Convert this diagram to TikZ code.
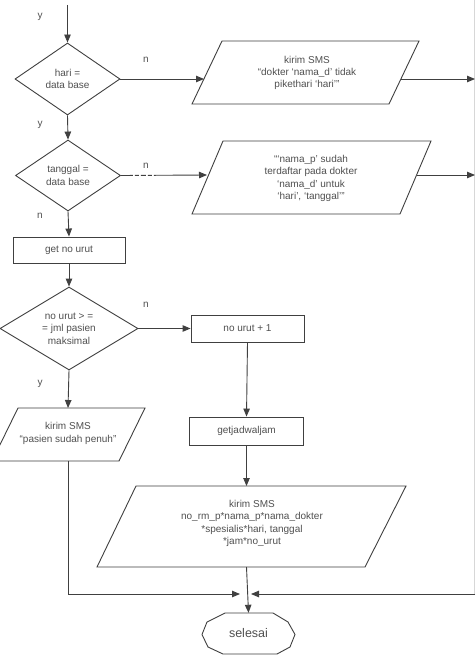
\documentclass[tikz,border=0pt]{standalone}
\usepackage{fontspec}
\setmainfont{Liberation Sans}
\usetikzlibrary{shapes.geometric,arrows.meta}
\definecolor{lc}{RGB}{64,64,64}
\definecolor{tc}{RGB}{80,80,80}
\definecolor{faint}{RGB}{215,215,215}
\begin{document}
\begin{tikzpicture}[x=1pt,y=-1pt,
 line/.style={draw=lc, line width=0.9pt},
 arr/.style={line, -{Triangle[length=8pt,width=6.5pt]}},
 box/.style={draw=lc, line width=0.9pt, rectangle, inner sep=0pt},
 dia/.style={draw=lc, line width=0.9pt, diamond, inner sep=0pt},
 para/.style={draw=lc, line width=0.9pt, line join=miter},
 txt/.style={text=tc, font=\fontsize{10}{12.4}\selectfont, align=center, inner sep=0pt},
 lbl/.style={text=tc, font=\fontsize{10}{12}\selectfont, inner sep=0pt}]
\useasboundingbox (0,0) rectangle (475,661);
\fill[white] (0,0) rectangle (475,661);

% faint right border line
\draw[faint, line width=0.9pt] (474,0) -- (474,594);

% start
\coordinate (start) at (67.5,5);

% decision 1
\node[dia, minimum width=105pt, minimum height=72pt] (d1) at (67.5,79) {};
\node[txt] (d1t) at (d1.center) {hari =\\data base};

% parallelogram 1
\draw[para] (192,104) -- (222,41) -- (419,41) -- (389,104) -- cycle;
\node[txt] (p1t) at (307,73) {kirim SMS\\“dokter ‘nama\_d’ tidak\\pikethari ‘hari’”};
\coordinate (p1in) at (204,79);
\coordinate (p1out) at (401,79);
\coordinate (r1) at (475,79);

% decision 2
\node[dia, minimum width=105pt, minimum height=71pt] (d2) at (68,175.5) {};
\node[txt] (d2t) at (d2.center) {tanggal =\\data base};

% parallelogram 2
\draw[para] (192,214) -- (223,141) -- (431,141) -- (400,214) -- cycle;
\node[txt] (p2t) at (311,178.5) {“‘nama\_p’ sudah\\terdaftar pada dokter\\‘nama\_d’ untuk\\‘hari’, ‘tanggal’”};
\coordinate (p2in) at (207,175);
\coordinate (p2out) at (416.5,175);
\coordinate (r2) at (475,175);

% get no urut
\node[box, minimum width=112pt, minimum height=26pt] (b1) at (69,250) {};
\node[txt] (b1t) at (b1.center) {get no urut};

% decision 3
\node[dia, minimum width=138pt, minimum height=83pt] (d3) at (69,328.5) {};
\node[txt] (d3t) at (d3.center) {no urut > =\\= jml pasien\\maksimal};

% no urut + 1
\node[box, minimum width=113pt, minimum height=27pt] (b2) at (247.5,328.5) {};
\node[txt] (b2t) at (b2.center) {no urut + 1};

% getjadwaljam
\node[box, minimum width=114pt, minimum height=28pt] (b3) at (246.5,431) {};
\node[txt] (b3t) at (b3.center) {getjadwaljam};

% parallelogram 4 (pasien penuh)
\draw[para] (-8,461) -- (18,408) -- (145,408) -- (119,461) -- cycle;
\node[txt] (p4t) at (68,433.5) {kirim SMS\\“pasien sudah penuh”};
\coordinate (p4top) at (68,408);
\coordinate (p4bot) at (68,461);
\coordinate (c4) at (68,594);
\coordinate (m1) at (240,594);

% parallelogram 3
\draw[para] (97,567) -- (136,486) -- (406,486) -- (365,567) -- cycle;
\node[txt] (p3t) at (252,523.5) {kirim SMS\\no\_rm\_p*nama\_p*nama\_dokter\\*spesialis*hari, tanggal\\*jam*no\_urut};
\coordinate (p3top) at (246.5,486);
\coordinate (p3bot) at (246.5,567);

% selesai
\draw[para] (225,613) -- (273,613) -- (288,622) -- (295,634.5) -- (290,647) -- (277,654) -- (223,654) -- (208,647) -- (202,634.5) -- (207,622) -- cycle;
\node[inner sep=0pt, minimum width=93pt, minimum height=41pt] (end) at (248.5,633.5) {};
\node[text=tc, font=\fontsize{12.5}{14}\selectfont, inner sep=0pt] (endt) at (end.center) {selesai};
\coordinate (rc) at (475,594);
\coordinate (m2) at (251,594);

% connectors
\draw[arr] (start) -- (d1.north);
\draw[arr] (d1.east) -- (p1in);
\draw[arr] (p1out) -- (r1);
\draw[arr] (d1.south) -- (d2.north);
\draw[arr, dash pattern=on 12pt off 2pt on 4pt off 2pt on 5pt off 2pt on 4pt off 2pt on 200pt] (d2.east) -- (p2in);
\draw[arr] (p2out) -- (r2);
\draw[arr] (d2.south) -- (b1.north);
\draw[arr] (b1.south) -- (d3.north);
\draw[arr] (d3.east) -- (b2.west);
\draw[arr] (b2.south) -- (b3.north);
\draw[arr] (b3.south) -- (p3top);
\draw[arr] (d3.south) -- (p4top);
\draw[arr] (p4bot) -- (c4) -- (m1);
\draw[arr] (rc) -- (m2);
\draw[arr] (p3bot) -- (end.north);

% labels
\node[lbl] (l1) at (40,17) {y};
\node[lbl] (l2) at (146,60) {n};
\node[lbl] (l3) at (40,125) {y};
\node[lbl] (l4) at (146,166) {n};
\node[lbl] (l5) at (40,216) {n};
\node[lbl] (l6) at (146,305) {n};
\node[lbl] (l7) at (40,384) {y};
\end{tikzpicture}
\end{document}
